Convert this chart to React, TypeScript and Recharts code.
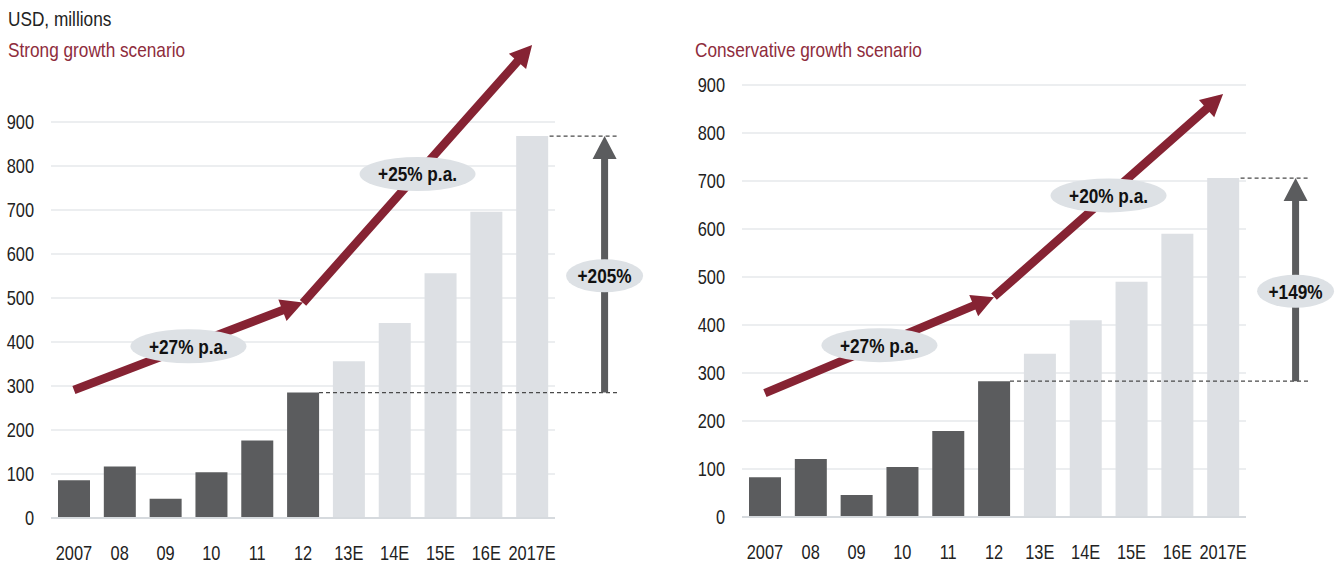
import React from 'react';
import { BarChart, Bar, XAxis, YAxis, CartesianGrid, Cell, ReferenceLine } from 'recharts';

// ---------- data ----------
const categories = ['2007', '08', '09', '10', '11', '12', '13E', '14E', '15E', '16E', '2017E'];
const strongValues = [86, 117, 44, 104, 176, 285, 356, 443, 556, 696, 868];
const conservativeValues = [83, 121, 46, 104, 179, 283, 340, 410, 490, 590, 706];
const yTicks = [0, 100, 200, 300, 400, 500, 600, 700, 800, 900];

const strongTrendHist = { from: ['2007', 291], to: ['12', 490], label: '+27% p.a.' };
const strongTrendFcst = { from: ['12', 489], to: ['2017E', 1075], label: '+25% p.a.' };
const conservativeTrendHist = { from: ['2007', 258], to: ['12', 458], label: '+27% p.a.' };
const conservativeTrendFcst = { from: ['12', 459], to: ['2017E', 881], label: '+20% p.a.' };
const strongGrowthLabel = '+205%';
const conservativeGrowthLabel = '+149%';

const FONT = "'Liberation Sans', Arial, sans-serif";
const SQUEEZE = 0.82;
const DARK = '#5b5c5e';
const LIGHT = '#dde0e4';
const RED = '#862333';
const PILL = '#dde1e5';

function NText({ x, y, anchor = 'start', size = 20, weight = 'normal', fill = '#222', dy = '0', children }: any) {
  return (
    <text
      transform={`translate(${x},${y}) scale(${SQUEEZE},1)`}
      x={0}
      y={0}
      dy={dy}
      textAnchor={anchor}
      fontFamily={FONT}
      fontSize={size}
      fontWeight={weight}
      fill={fill}
    >
      {children}
    </text>
  );
}

function arrowPoints(x1: number, y1: number, x2: number, y2: number, shaft: number, headLen: number, headW: number) {
  const dx = x2 - x1, dy = y2 - y1;
  const len = Math.hypot(dx, dy) || 1;
  const ux = dx / len, uy = dy / len;
  const nx = -uy, ny = ux;
  const bx = x2 - ux * headLen, by = y2 - uy * headLen;
  const s = shaft / 2, h = headW / 2;
  const pts = [
    [x1 + nx * s, y1 + ny * s],
    [bx + nx * s, by + ny * s],
    [bx + nx * h, by + ny * h],
    [x2, y2],
    [bx - nx * h, by - ny * h],
    [bx - nx * s, by - ny * s],
    [x1 - nx * s, y1 - ny * s],
  ];
  return pts.map((p) => p.join(',')).join(' ');
}

function trendShape(label: string) {
  return (props: any) => {
    const { x1, y1, x2, y2 } = props;
    const mx = (x1 + x2) / 2, my = (y1 + y2) / 2;
    return (
      <g>
        <polygon points={arrowPoints(x1, y1, x2, y2, 8.5, 22, 23)} fill={RED} />
        <ellipse cx={mx} cy={my} rx={58} ry={17} fill={PILL} />
        <NText x={mx} y={my} dy="0.36em" anchor="middle" size={21} weight="bold" fill="#111">
          {label}
        </NText>
      </g>
    );
  };
}

function growthShape(label: string, barHalf: number) {
  return (props: any) => {
    const { x1, y1, x2, y2 } = props; // x1: center of '12', y1: 2012 value; x2: center of 2017E, y2: 2017E value
    const endX = x2 + 85;
    const ax = x2 + 72.5;
    const headLen = 23;
    const shaftMid = (y1 + (y2 + headLen)) / 2;
    return (
      <g>
        <line x1={x1 + barHalf} y1={y1} x2={endX} y2={y1} stroke="#4a4a4a" strokeWidth={1.2} strokeDasharray="4 3" />
        <line x1={x2 + barHalf + 1.5} y1={y2} x2={endX} y2={y2} stroke="#4a4a4a" strokeWidth={1.2} strokeDasharray="4 3" />
        <polygon points={arrowPoints(ax, y1, ax, y2, 7, headLen, 24)} fill={DARK} />
        <ellipse cx={ax} cy={shaftMid} rx={38.5} ry={16.5} fill={PILL} />
        <NText x={ax} y={shaftMid} dy="0.36em" anchor="middle" size={21} weight="bold" fill="#111">
          {label}
        </NText>
      </g>
    );
  };
}

const XTick = (p: any) => (
  <NText x={p.x} y={p.y} dy="0.71em" anchor="middle" size={20} fill="#222">
    {p.payload.value}
  </NText>
);

const YTick = (p: any) => (
  <NText x={p.x} y={p.y} dy="0.355em" anchor="end" size={20} fill="#222">
    {p.payload.value}
  </NText>
);

type PanelProps = {
  left: number;
  width: number;
  top: number;
  right: number;
  bottom: number;
  yAxisWidth: number;
  values: number[];
  trends: { from: any[]; to: any[]; label: string }[];
  growthLabel: string;
};

function Panel({ left, width, top, right, bottom, yAxisWidth, values, trends, growthLabel }: PanelProps) {
  const data = categories.map((c, i) => ({ cat: c, value: values[i], estimate: c.endsWith('E') }));
  const base = values[categories.indexOf('12')];
  const last = values[values.length - 1];
  return (
    <div style={{ position: 'absolute', left, top: 0 }}>
      <BarChart width={width} height={564} data={data} margin={{ top, right, bottom, left: 0 }}>
        <CartesianGrid horizontal vertical={false} stroke="#e6e8eb" strokeWidth={1.5} />
        <XAxis
          dataKey="cat"
          interval={0}
          tickLine={false}
          tickSize={0}
          tickMargin={27.5}
          height={30}
          axisLine={{ stroke: '#d6dade', strokeWidth: 2 }}
          tick={XTick}
        />
        <YAxis
          type="number"
          domain={[0, 900]}
          ticks={yTicks}
          width={yAxisWidth}
          axisLine={false}
          tickLine={false}
          tickSize={0}
          tickMargin={17}
          tick={YTick}
        />
        <Bar dataKey="value" barSize={32} isAnimationActive={false}>
          {data.map((d) => (
            <Cell key={d.cat} fill={d.estimate ? LIGHT : DARK} />
          ))}
        </Bar>
        <ReferenceLine
          segment={[{ x: '12', y: base }, { x: '2017E', y: last }]}
          ifOverflow="visible"
          position="middle"
          shape={growthShape(growthLabel, 16)}
        />
        {trends.map((t, i) => (
          <ReferenceLine
            key={i}
            segment={[{ x: t.from[0], y: t.from[1] }, { x: t.to[0], y: t.to[1] }]}
            ifOverflow="visible"
            position="middle"
            shape={trendShape(t.label)}
          />
        ))}
      </BarChart>
    </div>
  );
}

const titleStyle = (left: number, top: number, color: string): React.CSSProperties => ({
  position: 'absolute',
  left,
  top,
  fontFamily: FONT,
  fontSize: 21,
  lineHeight: '21px',
  color,
  whiteSpace: 'nowrap',
  transform: `scaleX(${SQUEEZE})`,
  transformOrigin: '0 0',
});

export default function App() {
  return (
    <div style={{ position: 'absolute', left: 0, top: 0, width: 1338, height: 564, background: '#fff', overflow: 'hidden' }}>
      <div style={titleStyle(8, 8, '#222')}>USD, millions</div>
      <div style={titleStyle(8, 39, '#8e2c3c')}>Strong growth scenario</div>
      <div style={titleStyle(695, 39, '#8e2c3c')}>Conservative growth scenario</div>
      <Panel
        left={0}
        width={660}
        top={122}
        right={105}
        bottom={16}
        yAxisWidth={51}
        values={strongValues}
        trends={[strongTrendHist, strongTrendFcst]}
        growthLabel={strongGrowthLabel}
      />
      <Panel
        left={680}
        width={658}
        top={85}
        right={92}
        bottom={17}
        yAxisWidth={62}
        values={conservativeValues}
        trends={[conservativeTrendHist, conservativeTrendFcst]}
        growthLabel={conservativeGrowthLabel}
      />
    </div>
  );
}
